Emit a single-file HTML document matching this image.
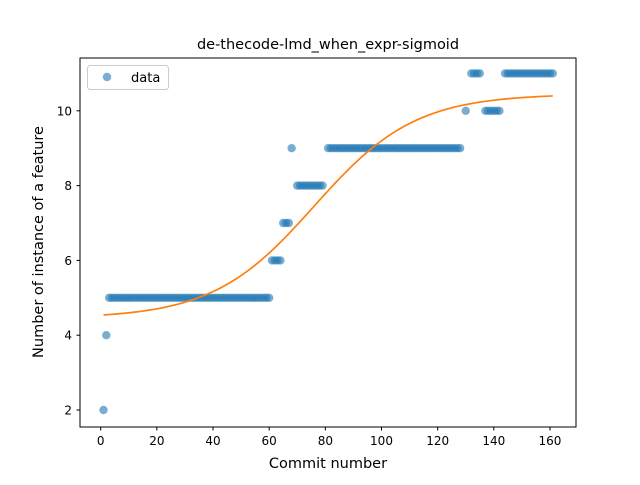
<!DOCTYPE html>
<html><head><meta charset="utf-8"><style>
body{margin:0;background:#fff}
svg text{font-family:"DejaVu Sans","Liberation Sans",sans-serif}
</style></head><body>
<svg id="c" width="640" height="480" xmlns="http://www.w3.org/2000/svg">
<rect width="640" height="480" fill="#fff"/>
<text x="328" y="49" font-size="14.5" text-anchor="middle">de-thecode-lmd_when_expr-sigmoid</text>
<g id="plot"></g>
<rect x="80" y="58" width="496" height="369" fill="none" stroke="#000" stroke-width="1"/>
<g id="ticks"></g>
<text x="328" y="468" font-size="14.5" text-anchor="middle">Commit number</text>
<text transform="translate(43,242) rotate(-90)" font-size="14.5" text-anchor="middle">Number of instance of a feature</text>
<g>
<rect x="87.5" y="65.5" width="81" height="24" rx="3" fill="#fff" fill-opacity="0.8" stroke="#ccc"/>
<circle cx="107" cy="77" r="4.2" fill="#1f77b4" fill-opacity="0.6"/>
<text x="131" y="82" font-size="13">data</text>
</g>
</svg>
<script>
const xTicks=[0,20,40,60,80,100,120,140,160];
const yTicks=[2,4,6,8,10];
const segStarts=[1,2,3,61,65,68,70,81,130,132,137,144];
const segEnds=[1,2,60,64,67,68,79,128,130,135,142,161];
const segValues=[2,4,5,6,7,9,8,9,10,11,10,11];
const fitParams=[4.45,6.0,76,18]; // base, amplitude, midpoint, scale
const fitRange=[1,161];
const NS="http://www.w3.org/2000/svg";
const xs=v=>100.7+2.808*v;
const ys=v=>410-37.4*(v-2);
const plot=document.getElementById('plot');
const tk=document.getElementById('ticks');
function mk(t,a,p){const e=document.createElementNS(NS,t);for(const k in a)e.setAttribute(k,a[k]);p.appendChild(e);return e;}
xTicks.forEach(v=>{
 const l=mk('line',{x1:xs(v),x2:xs(v),y1:427,y2:430.5,stroke:'#000'},tk);
 
 
 const t=mk('text',{x:xs(v),y:445,'font-size':'12','text-anchor':'middle'},tk);t.textContent=v;
 
 
});
yTicks.forEach(v=>{
 const l=mk('line',{x1:76.5,x2:80,y1:ys(v),y2:ys(v),stroke:'#000'},tk);
 
 
 const t=mk('text',{x:72,y:ys(v)+4.5,'font-size':'12','text-anchor':'end'},tk);t.textContent=v;
 
 
});
segStarts.forEach((s,i)=>{
 for(let x=s;x<=segEnds[i];x++){
  const c=mk('circle',{cx:xs(x),cy:ys(segValues[i]),r:4.2,fill:'#1f77b4','fill-opacity':0.6},plot);
  
  
 }
});
let d='';
for(let x=fitRange[0];x<=fitRange[1];x+=1){
 const y=fitParams[0]+fitParams[1]/(1+Math.exp(-(x-fitParams[2])/fitParams[3]));
 d+=(d?'L':'M')+xs(x).toFixed(2)+','+ys(y).toFixed(2);
}
const p=mk('path',{d:d,fill:'none',stroke:'#ff7f0e','stroke-width':1.7},plot);


</script>
</body></html>
